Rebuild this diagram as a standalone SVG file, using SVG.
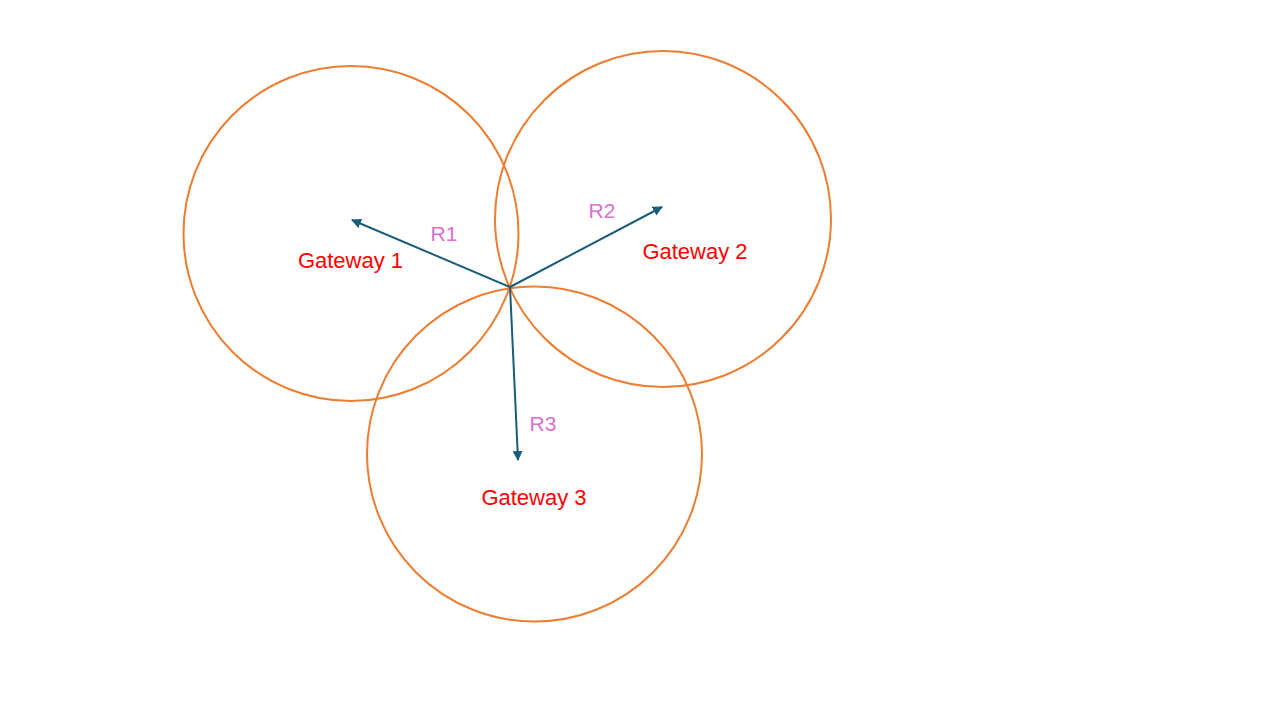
<svg xmlns="http://www.w3.org/2000/svg" width="1280" height="720" viewBox="0 0 1280 720">
<style>
.c{fill:none;stroke:#ED7D31;stroke-width:2}
.a{stroke:#1A5C7A;stroke-width:2;fill:none;marker-end:url(#ah)}
.g{font-family:"Liberation Sans",Arial,sans-serif;font-size:22px;fill:#FF0000;text-anchor:middle}
.r{font-family:"Liberation Sans",Arial,sans-serif;font-size:21px;fill:#DA70D0;text-anchor:middle}
</style>
<defs>
<marker id="ah" viewBox="0 0 10 10" refX="9" refY="5" markerWidth="5" markerHeight="5" orient="auto" markerUnits="strokeWidth">
<path d="M0,0 L10,5 L0,10 Z" fill="#1A5C7A"/>
</marker>
</defs>
<rect width="1280" height="720" fill="#FFFFFF"/>
<g id="gateway1"><circle class="c" cx="351" cy="233.5" r="167.5"/><text class="g" x="350.5" y="268">Gateway 1</text></g>
<g id="gateway2"><circle class="c" cx="663" cy="219" r="168"/><text class="g" x="695" y="259">Gateway 2</text></g>
<g id="gateway3"><circle class="c" cx="534.5" cy="454" r="167.5"/><text class="g" x="534" y="505">Gateway 3</text></g>
<g id="connectors">
<line class="a" x1="510" y1="287" x2="352" y2="220"/>
<line class="a" x1="510" y1="287" x2="662" y2="207"/>
<line class="a" x1="510" y1="287" x2="518" y2="460"/>
<text class="r" x="444" y="241">R1</text>
<text class="r" x="602" y="218">R2</text>
<text class="r" x="543" y="431">R3</text>
</g>
</svg>
